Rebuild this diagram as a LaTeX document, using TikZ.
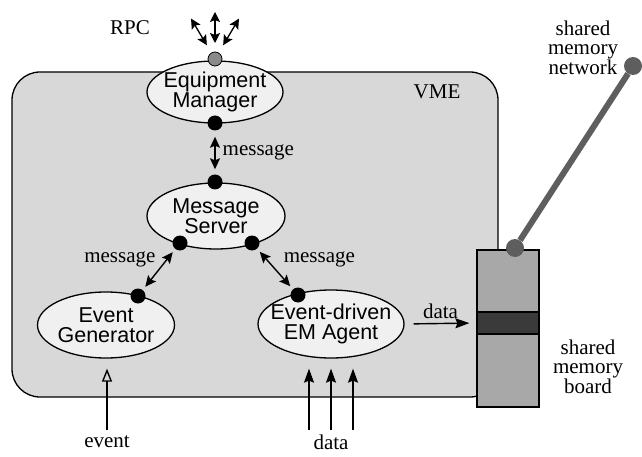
\documentclass[tikz,border=0pt]{standalone}
\usepackage{fontspec}
\setmainfont{Liberation Serif}
\setsansfont{Liberation Sans}
\usepackage{tikz}
\usetikzlibrary{
  positioning, arrows.meta, shapes.geometric, calc,
}
\definecolor{vmeFill}  {HTML}{D8D8D8}
\definecolor{unitFill} {HTML}{F0F0F0}
\definecolor{boardFill}{HTML}{A8A8A8}
\definecolor{bandFill} {HTML}{3A3A3A}
\definecolor{netGrey}  {HTML}{5E5E5E}
\definecolor{rpcGrey}  {HTML}{8A8A8A}

\begin{document}
\begin{tikzpicture}[x=1pt, y=-1pt,
    unit/.style={ellipse, draw, line width=1.3pt, fill=unitFill, inner sep=0pt},
    unitText/.style={font=\sffamily\fontsize{21.5}{19.5}\selectfont, align=center},
    lbl/.style={font=\fontsize{21}{19}\selectfont, align=center, inner sep=1pt},
    dot/.style={circle, fill=black, inner sep=0pt, minimum size=15pt},
    netDot/.style={circle, fill=netGrey, inner sep=0pt, minimum size=18pt},
    msgArrow/.style={{Stealth[length=11pt, width=10pt, inset=2pt]}-{Stealth[length=11pt, width=10pt, inset=2pt]},
                     line width=1.4pt},
    inArrow/.style={-{Stealth[length=14pt, width=10pt, inset=2pt]}, line width=1.4pt},
    rpcArrow/.style={{Stealth[length=10pt, width=10pt, inset=2pt]}-{Stealth[length=10pt, width=10pt, inset=2pt]},
                     line width=1.3pt},
  ]
  \useasboundingbox (0,0) rectangle (642,457);

  % VME crate
  \draw[line width=1.3pt, fill=vmeFill, rounded corners=28pt] (12,72) rectangle (498,397);
  \node[lbl] (vme) at (437,92) {VME};

  % software units
  \node[unit, minimum width=136pt, minimum height=62pt] (em) at (215,92) {};
  \node[unitText] at (em) {Equipment\\Manager};
  \node[unit, minimum width=138pt, minimum height=66pt] (ms) at (216,216) {};
  \node[unitText] at (ms) {Message\\Server};
  \node[unit, minimum width=137pt, minimum height=66pt] (eg) at (106,325) {};
  \node[unitText] at (eg) {Event\\Generator};
  \node[unit, minimum width=146pt, minimum height=68pt] (ag) at (331,324) {};
  \node[unitText] at (ag) {Event-driven\\EM Agent};

  % ports
  \node[circle, fill=rpcGrey, draw, line width=0.8pt, inner sep=0pt, minimum size=14pt] (rpc) at (215,59) {};
  \node[dot] (emS) at (215,123) {};
  \node[dot] (msN) at (215,182) {};
  \node[dot] (msL) at (180,243) {};
  \node[dot] (msR) at (252,243) {};
  \node[dot] (egN) at (138,296) {};
  \node[dot] (agN) at (298,295) {};

  % RPC fan
  \foreach \ux/\uy in {-0.51/-0.86, 0/-1, 0.51/-0.86}{
    \draw[rpcArrow] ($(rpc)+({16*\ux},{16*\uy})$) -- ($(rpc)+({47*\ux},{47*\uy})$);
  }
  \node[lbl] (rpcTxt) at (130,28) {RPC};

  % messages
  \draw[msgArrow, shorten <=6pt, shorten >=5pt] (emS) -- node[lbl, anchor=west, xshift=6pt] {message} (msN);
  \draw[msgArrow, shorten <=4pt, shorten >=4pt] (msL) -- node[lbl, pos=0.25, left=10pt] {message} (egN);
  \draw[msgArrow, shorten <=4pt, shorten >=4pt] (msR) -- node[lbl, pos=0.25, right=16pt] {message} (agN);

  % shared memory board
  \node[rectangle, draw, line width=1.3pt, fill=boardFill, minimum width=62pt, minimum height=157pt,
        inner sep=0pt] (board) at (508,328.5) {};
  \node[rectangle, draw, line width=1.3pt, fill=bandFill, minimum width=62pt, minimum height=22pt,
        inner sep=0pt] (band) at (508,323) {};
  \node[lbl] (boardTxt) at (588,367) {shared\\memory\\board};

  % network link
  \node[netDot] (netA) at (515,248) {};
  \node[netDot] (netB) at (633,66) {};
  \draw[line width=6pt, draw=netGrey] (netA) -- (netB);
  \node[lbl] (netTxt) at (583,48) {shared\\memory\\network};

  % data into board
  \draw[inArrow, shorten <=9pt, shorten >=7pt] (ag.east) -- node[lbl, above=3pt] {data} (band.west);

  % external inputs
  \coordinate (evIn) at (107,430);
  \draw[-{Triangle[open, length=13pt, width=10pt]}, line width=1.4pt, shorten >=10pt] (evIn) -- (evIn |- eg.south);
  \node[lbl, below=4pt of evIn] (evTxt) {event};
  \foreach \dx/\name in {-22/d1, 0/d2, 22/d3}{
    \coordinate (\name) at ($(331,430)+(\dx,0)$);
    \draw[inArrow, shorten >=10pt] (\name) -- (\name |- ag.south);
  }
  \node[lbl, below=4pt of d2] (dataTxt) {data};
\end{tikzpicture}
\end{document}
